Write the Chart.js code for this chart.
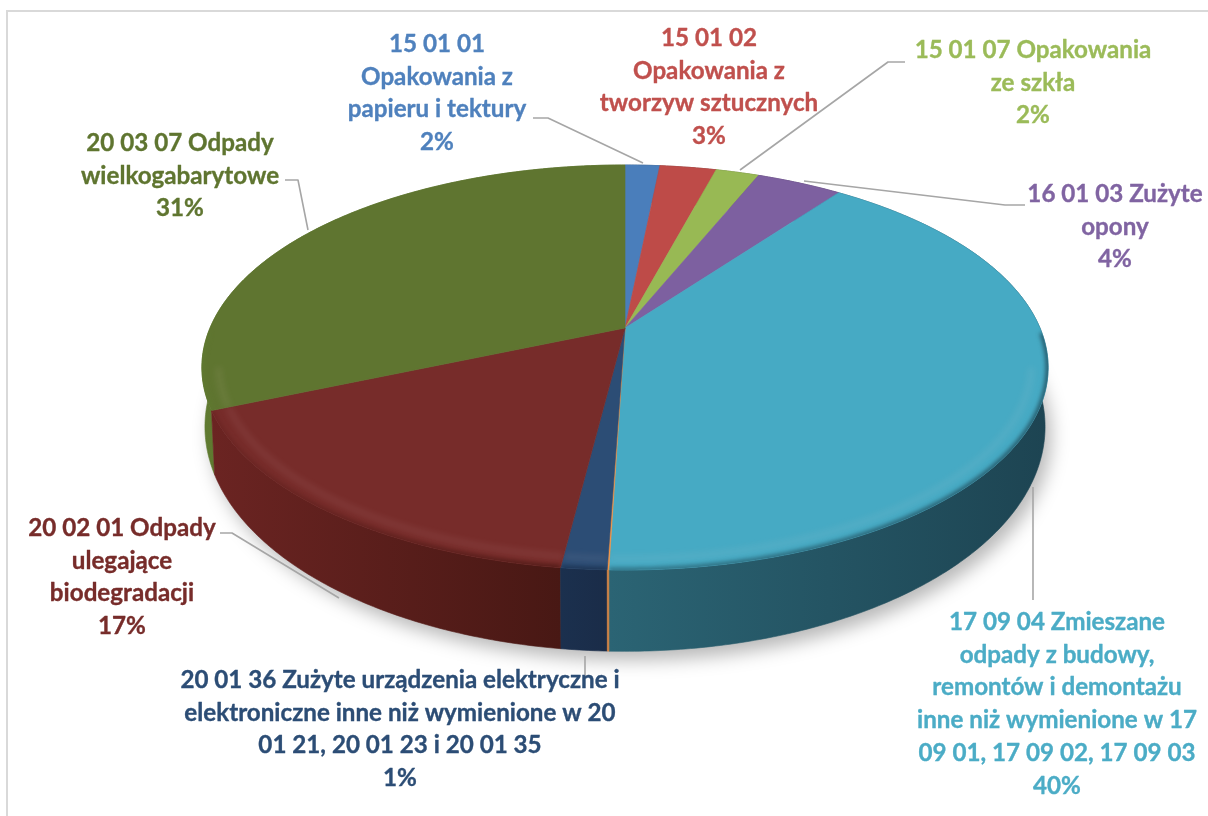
<!DOCTYPE html>
<html lang="pl">
<head>
<meta charset="utf-8">
<title>Odpady</title>
<script src="https://cdn.jsdelivr.net/npm/chart.js@4/dist/chart.umd.min.js"></script>
<style>html,body{margin:0;padding:0;background:#fff}canvas{display:block}</style>
</head>
<body>
<canvas id="c" width="1208" height="816"></canvas>
<script>
// ---- data ----
const categories = ["15 01 01","15 01 02","15 01 07","16 01 03","17 09 04","inne","20 01 36","20 02 01","20 03 07"];
const shares = [1.6,2.6,2.0,3.95,40.35,0.05,1.45,16.6,31.4];
const labelLines = [
  ["15 01 01","Opakowania z","papieru i tektury","2%"],
  ["15 01 02","Opakowania z","tworzyw sztucznych","3%"],
  ["15 01 07 Opakowania","ze szkła","2%"],
  ["16 01 03 Zużyte","opony","4%"],
  ["17 09 04 Zmieszane","odpady z budowy,","remontów i demontażu","inne niż wymienione w 17","09 01, 17 09 02, 17 09 03","40%"],
  [],
  ["20 01 36 Zużyte urządzenia elektryczne i","elektroniczne inne niż wymienione w 20","01 21, 20 01 23 i 20 01 35","1%"],
  ["20 02 01 Odpady","ulegające","biodegradacji","17%"],
  ["20 03 07 Odpady","wielkogabarytowe","31%"]
];
// ---- styles ----
const topColors = ["#4a7ebb","#be4b48","#98b954","#7d60a0","#46aac4","#f79646","#2c4d75","#772c2a","#5f7530"];
const textColors = ["#4f81bd","#c0504d","#9bbb59","#8064a2","#4bacc6","#f79646","#2c4d75","#772c2a","#5f7530"];
const sideLeft = ["#2c4c70","#722d2b","#5b6f32","#4b3960","#2b6474","#d08040","#1b304e","#6b2422","#5f7a30"];
const sideRight = ["#2c4c70","#722d2b","#5b6f32","#4b3960","#1d4452","#d08040","#1a2c48","#481814","#557029"];
const labelPos = [[437,44],[709,38],[1033,50],[1115,194],[1057,622],null,[400,680],[122,528],[180,143]];
const lineGap = 32.8;
const leaders = [
  [[533,118],[548,118],[643,163]],
  [[740,170],[888,62],[905,62]],
  [[804,181],[1005,205],[1025,205]],
  [[1033,487],[1033,600]],
  [[585,656],[585,676]],
  [[220,533],[232,533],[339,598]],
  [[285,180],[298,180],[308,230]]
];
const persp = 0.195;
const topFace = {a:415/328, b:194.8/328, dy:0};
const bottomFace = {a:412/328, b:216/328, dy:55/328};

function pt(arc, ang, radial, g){
  const u = radial*Math.cos(ang), v = radial*Math.sin(ang), w = 1-persp*v, R = arc.outerRadius;
  return [arc.x + g.a*R*u/w, arc.y + g.dy*R + g.b*R*v/w];
}
function arcPts(arc, g, radial, frontOnly){
  const n = Math.max(2, Math.ceil((arc.endAngle-arc.startAngle)/0.01)), out = [];
  for(let i=0;i<=n;i++){
    const ang = arc.startAngle+(arc.endAngle-arc.startAngle)*i/n;
    if(frontOnly && Math.sin(ang)<frontOnly) continue;
    out.push(pt(arc, ang, radial, g));
  }
  return out;
}
function trace(ctx, pts, closed){
  ctx.beginPath();
  pts.forEach((p,i)=> i?ctx.lineTo(p[0],p[1]):ctx.moveTo(p[0],p[1]));
  if(closed) ctx.closePath();
}
function sideGradient(ctx, pts, i){
  const xs = pts.map(p=>p[0]);
  const g = ctx.createLinearGradient(Math.min(...xs),0,Math.max(...xs),0);
  g.addColorStop(0,sideLeft[i]); g.addColorStop(1,sideRight[i]);
  return g;
}
const pie3d = {
  id:'pie3d',
  beforeDraw(chart){
    const ctx = chart.ctx;
    ctx.save(); ctx.fillStyle='#fff'; ctx.fillRect(0,0,1208,816);
    ctx.strokeStyle='#d9d9d9'; ctx.lineWidth=2;
    ctx.beginPath(); ctx.moveTo(7,816); ctx.lineTo(7,11); ctx.lineTo(1208,11); ctx.stroke();
    ctx.restore();
  },
  beforeDatasetsDraw(chart){
    const ctx = chart.ctx, arcs = chart.getDatasetMeta(0).data;
    const first = arcs[0];
    // soft shadow under the disc
    ctx.save();
    ctx.filter='blur(9px)'; ctx.fillStyle='rgba(0,0,0,0.28)';
    const ring=[]; for(let i=0;i<=360;i++){ const p=pt(first,i*Math.PI/180,1,bottomFace); ring.push([p[0]+6,p[1]+9]); }
    trace(ctx,ring,true); ctx.fill();
    ctx.restore();
    // side walls, back to front
    const order = arcs.map((a,i)=>i).sort((p,q)=>Math.sin((arcs[p].startAngle+arcs[p].endAngle)/2)-Math.sin((arcs[q].startAngle+arcs[q].endAngle)/2));
    order.forEach(i=>{
      const a = arcs[i];
      const t = arcPts(a,topFace,1), b = arcPts(a,bottomFace,1).reverse();
      const all = t.concat(b), g = sideGradient(ctx,all,i);
      ctx.fillStyle=g; trace(ctx,all,true); ctx.fill();
      ctx.strokeStyle=g; ctx.lineWidth=0.6; ctx.stroke();
    });
    // top faces
    arcs.forEach((a,i)=>{
      const apex = pt(a,0,0,topFace);
      const outer = arcPts(a,topFace,1), poly = [apex].concat(outer);
      ctx.save();
      ctx.filter='blur(0.7px)';
      ctx.fillStyle=topColors[i]; trace(ctx,poly,true); ctx.fill();
      ctx.strokeStyle=topColors[i]; ctx.lineWidth=0.6; ctx.stroke();
      ctx.restore();
      const front = arcPts(a,topFace,0.962,0.2), edge = arcPts(a,topFace,1,0.02);
      ctx.save();
      trace(ctx,poly,true); ctx.clip();
      if(front.length>1){
        ctx.filter='blur(3px)';
        ctx.strokeStyle='rgba(255,215,215,0.08)'; ctx.lineWidth=6;
        trace(ctx,front,false); ctx.stroke();
      }
      if(edge.length>1){
        ctx.filter='blur(2px)';
        ctx.strokeStyle=sideGradient(ctx,outer,i); ctx.globalAlpha=0.8; ctx.lineWidth=5;
        trace(ctx,edge,false); ctx.stroke();
      }
      ctx.restore();
    });
    return false;
  },
  afterDraw(chart){
    const ctx = chart.ctx;
    ctx.save();
    ctx.strokeStyle='#a6a6a6'; ctx.lineWidth=1.6; ctx.lineJoin='round';
    leaders.forEach(l=>{ trace(ctx,l,false); ctx.stroke(); });
    ctx.font='bold 24.2px Lato'; ctx.textAlign='center'; ctx.textBaseline='middle'; ctx.lineJoin='round';
    ctx.lineWidth=0.35;
    labelLines.forEach((lines,i)=>{
      if(!labelPos[i]) return;
      ctx.fillStyle=textColors[i]; ctx.strokeStyle=textColors[i];
      lines.forEach((s,j)=>{
        ctx.fillText(s,labelPos[i][0],labelPos[i][1]+j*lineGap);
        ctx.strokeText(s,labelPos[i][0],labelPos[i][1]+j*lineGap);
      });
    });
    ctx.restore();
  }
};
new Chart(document.getElementById('c'),{
  type:'pie',
  data:{labels:categories,datasets:[{data:shares,backgroundColor:topColors,borderWidth:0}]},
  options:{
    responsive:false,animation:false,
    layout:{padding:{left:42,right:0,top:0,bottom:160}},
    plugins:{legend:{display:false},tooltip:{enabled:false},title:{display:false}}
  },
  plugins:[pie3d]
});
</script>
</body>
</html>
